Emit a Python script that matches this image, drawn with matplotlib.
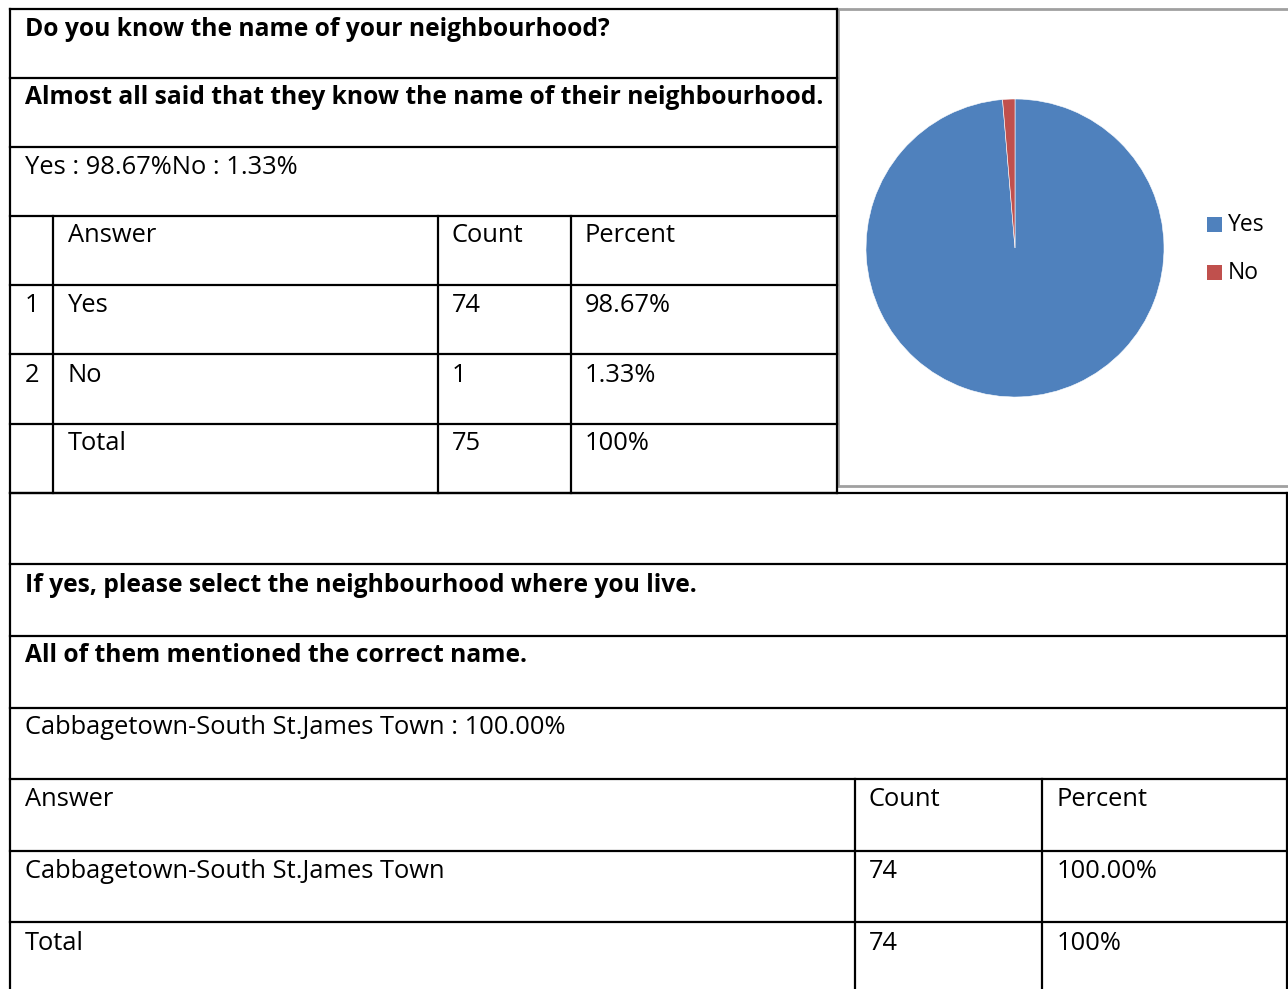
import matplotlib

matplotlib.use("Agg")
import matplotlib.pyplot as plt
from matplotlib.patches import Rectangle

# survey data
q1_title = "Do you know the name of your neighbourhood?"
q1_summary = "Almost all said that they know the name of their neighbourhood."
q1_answers = ["Yes", "No"]
q1_counts = [74, 1]
q1_percents = ["98.67%", "1.33%"]
q1_total = 75

q2_title = "If yes, please select the neighbourhood where you live."
q2_summary = "All of them mentioned the correct name."
q2_answers = ["Cabbagetown-South St.James Town"]
q2_counts = [74]
q2_percents = ["100.00%"]
q2_total = 74

pie_colors = ["#4F81BD", "#C0504D"]

W, H = 1288, 989
FONT = "Open Sans"
FS = 18.4
FS_BOLD = 17.7

fig = plt.figure(figsize=(W / 100, H / 100), dpi=100)
ax = fig.add_axes([0, 0, 1, 1])
ax.set_xlim(0, W)
ax.set_ylim(H, 0)
ax.axis("off")


def hline(y, x0, x1, color="black", lw=1.6):
    ax.plot([x0, x1], [y, y], color=color, lw=lw, solid_capstyle="projecting")


def vline(x, y0, y1, color="black", lw=1.6):
    ax.plot([x, x], [y0, y1], color=color, lw=lw, solid_capstyle="projecting")


def txt(x, y, s, bold=False):
    ax.text(x, y + 1, s, fontsize=FS_BOLD if bold else FS, family=FONT,
            fontweight="bold" if bold else "normal",
            va="center", ha="left", color="black")


# upper table
rows1 = [9, 78, 147, 216, 285, 354, 424, 493]
for y in rows1:
    hline(y, 10, 837)
vline(10, 9, 989)
vline(837, 9, 493)
for x in (53, 438, 571):
    vline(x, 216, 493)

txt(25, 28, q1_title, bold=True)
txt(25, 97, q1_summary, bold=True)
txt(25, 166, "".join(f"{a} : {p}" for a, p in zip(q1_answers, q1_percents)))
txt(68, 235, "Answer")
txt(452, 235, "Count")
txt(585, 235, "Percent")
for i, (a, c, p) in enumerate(zip(q1_answers, q1_counts, q1_percents)):
    y = 305 + i * 69
    txt(25, y, str(i + 1))
    txt(68, y, a)
    txt(452, y, str(c))
    txt(585, y, p)
txt(68, 443, "Total")
txt(452, 443, str(q1_total))
txt(585, 443, "100%")

# lower table
rows2 = [493, 564, 636, 708, 779, 851, 922]
for y in rows2:
    hline(y, 10, 1287)
vline(1287, 493, 989)
for x in (855, 1042):
    vline(x, 779, 989)

txt(25, 584, q2_title, bold=True)
txt(25, 655, q2_summary, bold=True)
txt(25, 727, f"{q2_answers[0]} : {q2_percents[0]}")
txt(25, 799, "Answer")
txt(869, 799, "Count")
txt(1057, 799, "Percent")
for i, (a, c, p) in enumerate(zip(q2_answers, q2_counts, q2_percents)):
    y = 870 + i * 72
    txt(25, y, a)
    txt(869, y, str(c))
    txt(1057, y, p)
txt(25, 942, "Total")
txt(869, 942, str(q2_total))
txt(1057, 942, "100%")

# chart box
ax.add_patch(Rectangle((838, 9), 460, 477, fill=False, edgecolor="#A0A0A0", lw=2.0))

# pie
cx, cy, r = 1015, 248, 149
pax = fig.add_axes([(cx - r) / W, 1 - (cy + r) / H, 2 * r / W, 2 * r / H])
pax.pie(q1_counts, colors=pie_colors, startangle=90, counterclock=False,
        wedgeprops=dict(edgecolor="white", linewidth=0.4))
pax.set_xlim(-1, 1)
pax.set_ylim(-1, 1)
pax.set_aspect("auto")
pax.axis("off")

# legend
for i, (a, col) in enumerate(zip(q1_answers, pie_colors)):
    y = 224 + i * 48
    ax.add_patch(Rectangle((1207, y - 7), 15, 15, facecolor=col, edgecolor="none"))
    ax.text(1228, y + 1, a, fontsize=16.5, family=FONT, va="center", ha="left")

fig.savefig("out.png", dpi=100)
